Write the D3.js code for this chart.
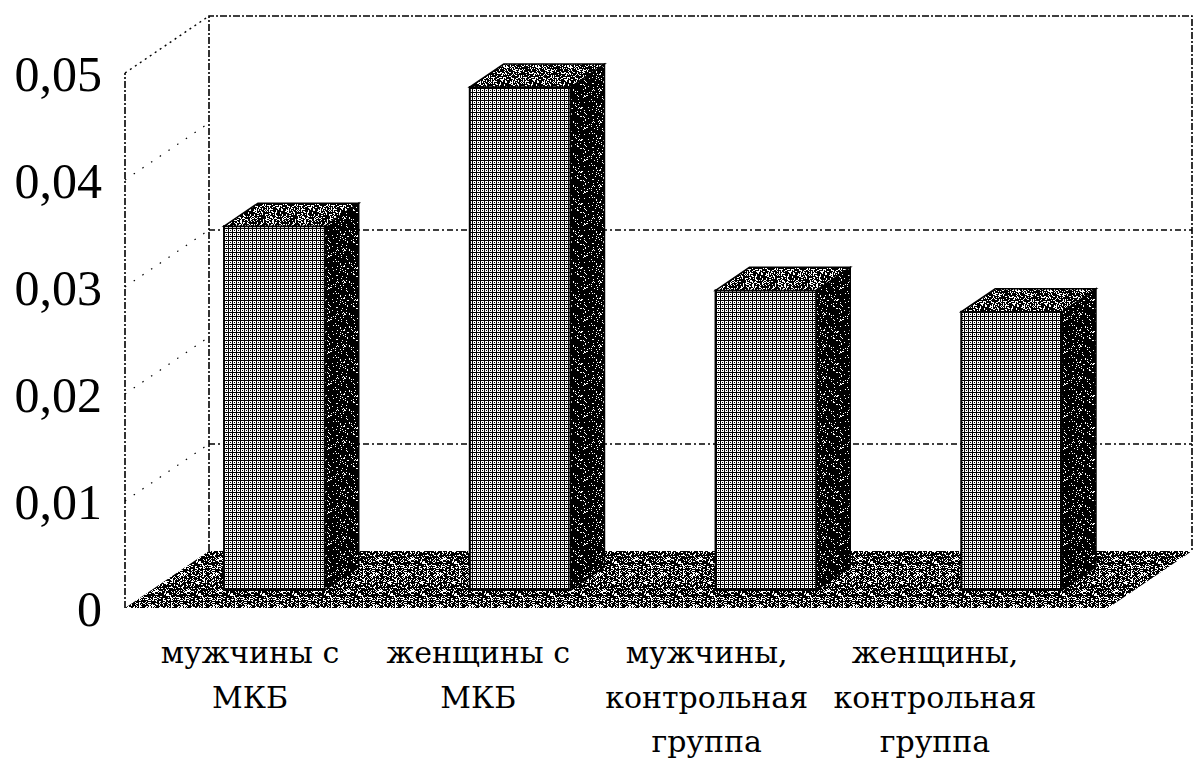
<!DOCTYPE html>
<html>
<head>
<meta charset="utf-8">
<script src="https://cdn.jsdelivr.net/npm/d3@7"></script>
<style>
  html, body { margin: 0; padding: 0; background: #fff; }
  svg { display: block; }
</style>
</head>
<body>
<svg id="chart" width="1195" height="762"></svg>
<script>
// data
const categories = ["мужчины с\nМКБ", "женщины с\nМКБ", "мужчины,\nконтрольная\nгруппа", "женщины,\nконтрольная\nгруппа"];
const values = [0.034, 0.047, 0.028, 0.026];
const yTicks = [0, 0.01, 0.02, 0.03, 0.04, 0.05];
const backGridTicks = [0.01, 0.03];

const svg = d3.select("#chart");

//depth of the 3d box and where the bars sit inside it
const DX = 84, DY = 57;
const D0 = 0.316, D1 = 0.72;

const x = d3.scaleBand().domain(categories).range([125, 1108]).paddingInner(0.59).paddingOuter(0.295);
const y = d3.scaleLinear().domain([0, 0.05]).range([608, 73]);
const labelX = d3.scalePoint().domain(categories).range([250, 935]);

//project a front plane point back by depth d (0..1)
const proj = (px, py, d) => [px + d * DX, py - d * DY];
const poly = pts => pts.map(p => p.join(",")).join(" ");

const ru = d3.formatLocale({ decimal: ",", thousands: " ", grouping: [3], currency: ["", ""] });
const fmt = ru.format(".2~f");

// ---- patterns (scanned halftone look) ----
const defs = svg.append("defs");

const mesh = defs.append("pattern").attr("id", "mesh")
  .attr("patternUnits", "userSpaceOnUse").attr("width", 4).attr("height", 4);
mesh.append("rect").attr("width", 4).attr("height", 4).attr("fill", "#fff");
mesh.append("rect").attr("width", 4).attr("height", 1).attr("fill", "#000");
mesh.append("rect").attr("width", 1).attr("height", 4).attr("fill", "#000");
mesh.append("rect").attr("x", 2).attr("y", 2).attr("width", 1).attr("height", 1).attr("fill", "#000");

//deterministic hash just for the speckle texture
function hash(px, py, seed) {
  let h = Math.imul(px * 374761393 + py * 668265263 + seed * 1442695041, 1274126177);
  h = h ^ (h >>> 15);
  h = Math.imul(h, 2246822519);
  return ((h ^ (h >>> 13)) >>> 0) / 4294967296;
}

function speckle(id, frac, seed) {
  const size = 32;
  const p = defs.append("pattern").attr("id", id)
    .attr("patternUnits", "userSpaceOnUse").attr("width", size).attr("height", size);
  p.append("rect").attr("width", size).attr("height", size).attr("fill", "#000");
  const pts = [];
  for (let j = 0; j < size; j++) {
    for (let i = 0; i < size; i++) {
      if (hash(i, j, seed) < frac) pts.push([i, j]);
    }
  }
  p.selectAll("rect.dot").data(pts).join("rect").attr("class", "dot")
    .attr("x", d => d[0]).attr("y", d => d[1])
    .attr("width", 1).attr("height", 1).attr("fill", "#fff");
}
speckle("side", 0.1, 1);
speckle("topf", 0.3, 2);
speckle("floor", 0.3, 3);

// ---- walls ----
const walls = svg.append("g").attr("fill", "none").attr("stroke", "#000");
const dashDot = "7,2,2,2";

const backLeft = proj(125, y(0), 1)[0];
const backRight = proj(1108, y(0), 1)[0];

//back wall gridlines
walls.selectAll("line.grid").data(backGridTicks).join("line").attr("class", "grid")
  .attr("x1", backLeft).attr("x2", backRight)
  .attr("y1", d => proj(0, y(d), 1)[1]).attr("y2", d => proj(0, y(d), 1)[1])
  .attr("stroke-width", 1.3).attr("stroke-dasharray", "6,3,2,3");

//side wall gridlines
walls.selectAll("line.side").data(yTicks.filter(t => t > 0 && t < 0.05)).join("line").attr("class", "side")
  .attr("x1", 125).attr("y1", d => y(d))
  .attr("x2", backLeft).attr("y2", d => proj(0, y(d), 1)[1])
  .attr("stroke-width", 1.2).attr("stroke-dasharray", "1.5,9");

//wall frame
const topBack = proj(0, y(0.05), 1)[1];
const floorBack = proj(0, y(0), 1)[1];
walls.append("polyline")
  .attr("points", poly([[backLeft, floorBack], [backLeft, topBack], [backRight, topBack], [backRight, floorBack]]))
  .attr("stroke-width", 1.6).attr("stroke-dasharray", dashDot);
walls.append("line").attr("x1", 125).attr("y1", y(0)).attr("x2", 125).attr("y2", y(0.05))
  .attr("stroke-width", 1.6).attr("stroke-dasharray", dashDot);
walls.append("line").attr("x1", 125).attr("y1", y(0.05)).attr("x2", backLeft).attr("y2", topBack)
  .attr("stroke-width", 1.4).attr("stroke-dasharray", "2,4");

// ---- floor ----
svg.append("polygon")
  .attr("points", poly([proj(125, y(0), 0), proj(1108, y(0), 0), proj(1108, y(0), 1), proj(125, y(0), 1)]))
  .attr("fill", "url(#floor)");

// ---- bars ----
const bars = svg.append("g").selectAll("g").data(categories.map((c, i) => ({ c, v: values[i] }))).join("g");
const dd = D1 - D0;

bars.each(function(d) {
  const g = d3.select(this);
  const [fx0, fyTop] = proj(x(d.c), y(d.v), D0);
  const [, fyBot] = proj(0, y(0), D0);
  const fx1 = fx0 + x.bandwidth();

  //front face
  g.append("rect")
    .attr("x", fx0).attr("y", fyTop)
    .attr("width", fx1 - fx0).attr("height", fyBot - fyTop)
    .attr("fill", "url(#mesh)").attr("stroke", "#000").attr("stroke-width", 2);

  //side face
  g.append("polygon")
    .attr("points", poly([[fx1, fyTop], [fx1 + dd * DX, fyTop - dd * DY], [fx1 + dd * DX, fyBot - dd * DY], [fx1, fyBot]]))
    .attr("fill", "url(#side)").attr("stroke", "#000").attr("stroke-width", 1.5);

  //top face
  g.append("polygon")
    .attr("points", poly([[fx0, fyTop], [fx1, fyTop], [fx1 + dd * DX, fyTop - dd * DY], [fx0 + dd * DX, fyTop - dd * DY]]))
    .attr("fill", "url(#topf)").attr("stroke", "#000").attr("stroke-width", 1.5);
});

// ---- y axis labels ----
const serif = "'Liberation Serif', 'DejaVu Serif', 'Times New Roman', serif";
const yAxis = svg.append("g").attr("transform", "translate(125,0)")
  .call(d3.axisLeft(y).tickValues(yTicks).tickFormat(fmt).tickSize(0).tickPadding(23));
yAxis.select(".domain").remove();
yAxis.selectAll("text")
  .attr("font-family", serif)
  .attr("font-size", 50).attr("fill", "#000").attr("dy", "0.34em");

// ---- category labels ----
const labels = svg.append("g")
  .attr("font-family", "'DejaVu Serif', serif")
  .attr("font-size", 30).attr("text-anchor", "middle").attr("fill", "#000");

labels.selectAll("text").data(categories).join("text")
  .attr("x", d => labelX(d)).attr("y", 663)
  .selectAll("tspan").data(d => d.split("\n").map(t => ({ t, cx: labelX(d) }))).join("tspan")
  .attr("x", d => d.cx).attr("dy", (d, i) => i === 0 ? 0 : 44.5)
  .text(d => d.t);
</script>
</body>
</html>
